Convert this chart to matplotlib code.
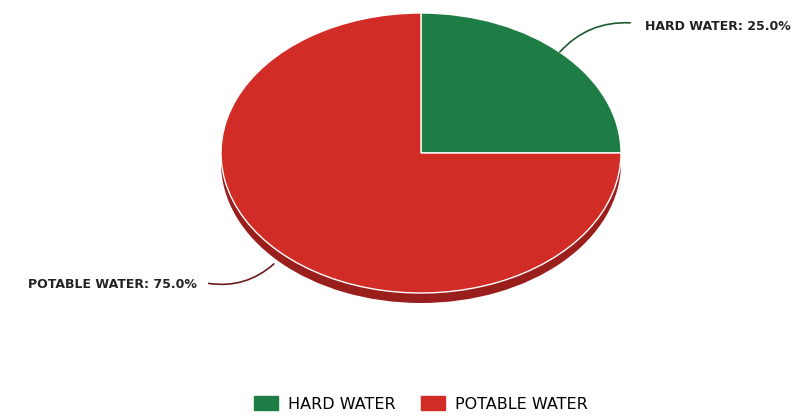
import matplotlib.pyplot as plt
import matplotlib.patches as mpatches

# data
labels = ["HARD WATER", "POTABLE WATER"]
shares = [25.0, 75.0]
colors = ["#1d7d44", "#d22c27"]
side_color = "#9a1f1c"

W, H = 795, 416
fig = plt.figure(figsize=(W / 100, H / 100), dpi=100)

# ellipse box of the pie (pixels), plus a small depth below it
cx, cy, rx, ry, depth = 421, 153, 200, 140, 10
d = depth / ry
ax = fig.add_axes([(cx - rx) / W, 1 - (cy + ry + depth) / H, 2 * rx / W, (2 * ry + depth) / H])

# side of the "3d" disc
ax.pie([1], colors=[side_color], center=(0, -d), radius=1,
       wedgeprops=dict(linewidth=0))
# top of the disc
wedges, _ = ax.pie(shares, colors=colors, startangle=0, counterclock=True,
                   wedgeprops=dict(edgecolor="white", linewidth=1.0))
ax.set_aspect("auto")
ax.set_xlim(-1, 1)
ax.set_ylim(-1 - d, 1)
ax.axis("off")

# overlay in pixel coordinates for labels and leader lines
ov = fig.add_axes([0, 0, 1, 1], zorder=3)
ov.set_xlim(0, W)
ov.set_ylim(H, 0)
ov.axis("off")

ov.annotate("", xy=(633, 23), xytext=(558, 54),
            arrowprops=dict(arrowstyle="-", color="#1d5a32", lw=1.2,
                            connectionstyle="arc3,rad=-0.25"))
ov.text(645, 27, f"{labels[0]}: {shares[0]:.1f}%", fontsize=9, fontweight="bold",
        family="DejaVu Sans", color="#222222", va="center", ha="left")

ov.annotate("", xy=(206, 283), xytext=(276, 262),
            arrowprops=dict(arrowstyle="-", color="#6a1a1a", lw=1.2,
                            connectionstyle="arc3,rad=-0.25"))
ov.text(28, 284, f"{labels[1]}: {shares[1]:.1f}%", fontsize=9, fontweight="bold",
        family="DejaVu Sans", color="#222222", va="center", ha="left")

# legend
handles = [mpatches.Patch(color=c) for c in colors]
fig.legend(handles, labels, loc="center", bbox_to_anchor=(421 / W, 1 - 404 / H),
           ncol=2, frameon=False, fontsize=11.5, handlelength=1.5, handleheight=1.0,
           handletextpad=0.6, columnspacing=1.6)

fig.savefig("out.png", dpi=100)
